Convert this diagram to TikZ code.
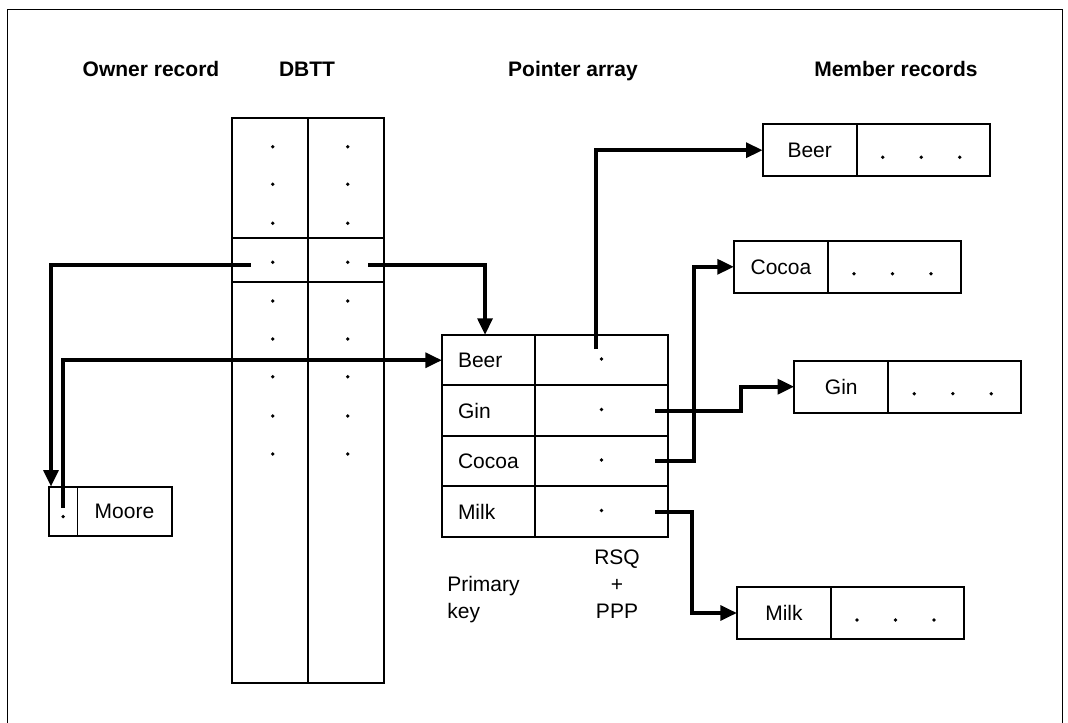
\documentclass[tikz,border=0pt]{standalone}
\usepackage{fontspec}
\setmainfont{Liberation Sans}
\usetikzlibrary{positioning,arrows.meta}

\begin{document}
\begin{tikzpicture}[
  x=0.75pt, y=-0.75pt,
  every node/.style={inner sep=1pt, outer sep=0pt, font=\fontsize{15.75}{19.9}\selectfont},
  title/.style={font=\fontsize{15.75}{19.9}\selectfont\bfseries, anchor=base},
  frame/.style={draw, line width=0.75pt},
  rule/.style={draw, line width=1.5pt},
  % cells of the records and of the pointer array
  namecell/.style={draw, line width=1.5pt, minimum height=39pt, minimum width=70.5pt},
  dotscell/.style={draw, line width=1.5pt, minimum height=39pt, minimum width=99.75pt},
  keycell/.style={draw, line width=1.5pt, minimum height=37.875pt, text width=45.75pt, align=left, inner xsep=12pt},
  ptrcell/.style={draw, line width=1.5pt, minimum height=37.875pt, minimum width=99.75pt},
  ownercell/.style={draw, line width=0.75pt, minimum height=36.75pt},
  link/.style={draw, line width=3pt, -{Triangle[length=12.5pt, width=11pt]}}]

  \useasboundingbox (0,0) rectangle (1068,723);

  % frame and headings
  \draw[frame] (7.3,723) -- (7.3,9.3) -- (1062,9.3) -- (1062,723);
  \node[title] (hown) at (151,77) {Owner record};
  \node[title] (hdbtt) at (307,77) {DBTT};
  \node[title] (hptr) at (573,77) {Pointer array};
  \node[title] (hmem) at (896,77) {Member records};

  % DBTT
  \node[rule, minimum width=114pt, minimum height=423.75pt, anchor=north west] (dbtt) at (232,118) {};
  \draw[rule] (dbtt.north) -- (dbtt.south);
  \draw[rule] (dbtt.west |- 0,238.5) -- (dbtt.east |- 0,238.5)
              (dbtt.west |- 0,282.5) -- (dbtt.east |- 0,282.5);
  \foreach \y in {146.7,184.3,223.3,262.3,301,339,376.7,416,454}
    \fill (272.7,\y) circle (1.4pt) (347.7,\y) circle (1.4pt);

  % owner record
  \node[ownercell, minimum width=21.2pt, anchor=north west] (mp) at (49,486.7) {};
  \node[ownercell, minimum width=70.8pt, right=0pt of mp] (mn) {Moore};
  \draw[rule] (mp.north west) rectangle (mn.south east);
  \fill ([yshift=-4pt]mp.center) circle (1.4pt);

  % pointer array
  \foreach \txt [count=\i] in {Beer,Gin,Cocoa,Milk} {
    \node[keycell, anchor=north west] (k\i) at (442,{335+50.5*(\i-1)}) {\txt};
    \node[ptrcell, right=0pt of k\i] (p\i) {};
    \fill ([yshift=1pt]p\i.center) circle (1.4pt);
  }
  \node[align=left, anchor=base west] (lkey) at (446,618) {Primary\\key};
  \node[align=center, anchor=base] (lrsq) at (617,618) {RSQ\\+\\PPP};

  % member records
  \foreach \txt/\x/\y [count=\i] in {Beer/762.7/150.2, Cocoa/734/266.8, Gin/794.3/386.7, Milk/737/613} {
    \node[namecell, anchor=west] (m\i) at (\x,\y) {\txt};
    \node[dotscell, right=0pt of m\i] (d\i) {};
    \foreach \dx in {19.5pt,48.4pt,77.25pt}
      \fill ([shift={(\dx,-5.25pt)}]d\i.west) circle (1.4pt);
  }

  % pointers
  \coordinate (dl) at (250.7,265);
  \coordinate (dr) at (368.3,265);
  \coordinate (mo) at (62.7,508);
  \draw[link] (dl) -| ([xshift=1.5pt]mp.north west);
  \draw[link] (dr) -| ([xshift=-2.6pt]k1.north);
  \draw[link] (mo) |- (k1.west);
  \draw[link] ([shift={(-4.5pt,8.25pt)}]p1.center) |- (m1.west);
  \draw[link] ([xshift=-9.75pt]p2.east) -- ++(85.7,0) |- (m3.west);
  \draw[link] ([xshift=-9.75pt]p3.east) -- ++(39,0) |- (m2.west);
  \draw[link] ([xshift=-9.75pt]p4.east) -- ++(37,0) |- (m4.west);
\end{tikzpicture}
\end{document}
